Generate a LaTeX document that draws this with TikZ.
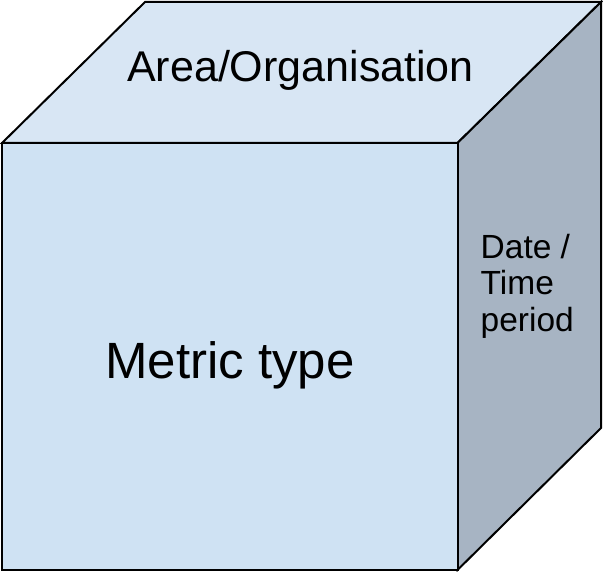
\documentclass[tikz,border=0pt]{standalone}
\usepackage{fontspec}
\setmainfont{Liberation Sans}
\definecolor{frontface}{HTML}{CFE2F3}
\definecolor{topface}{HTML}{D8E6F4}
\definecolor{sideface}{HTML}{A7B4C3}
\tikzset{
  face/.style={draw=black, line width=2pt, line join=miter},
  label/.style={inner sep=0pt, anchor=base, text=black}
}
\begin{document}
\begin{tikzpicture}[x=1pt,y=-1pt]
  \useasboundingbox (0,0) rectangle (603,572);
  % cube corners
  \coordinate (ftl) at (2,143);
  \coordinate (ftr) at (457.5,143);
  \coordinate (fbl) at (2,570);
  \coordinate (fbr) at (457.5,570);
  \coordinate (btl) at (145,2);
  \coordinate (btr) at (601,2);
  \coordinate (bbr) at (601,428);
  % faces
  \draw[face, fill=topface] (ftl) -- (btl) -- (btr) -- (ftr) -- cycle;
  \draw[face, fill=sideface] (ftr) -- (btr) -- (bbr) -- (fbr) -- cycle;
  \draw[face, fill=frontface] (ftl) -- (ftr) -- (fbr) -- (fbl) -- cycle;
  % labels (the side label is placed by the baseline of its last line)
  \node[label, font=\fontsize{43}{50}\selectfont] (area) at (300.5,81.5) {Area/Organisation};
  \node[label, font=\fontsize{51}{60}\selectfont] (metric) at (230,378) {Metric type};
  \node[label, anchor=base west, align=left, font=\fontsize{33.5}{36.5}\selectfont] (date) at (480.5,331) {Date /\\Time\\period};
\end{tikzpicture}
\end{document}
